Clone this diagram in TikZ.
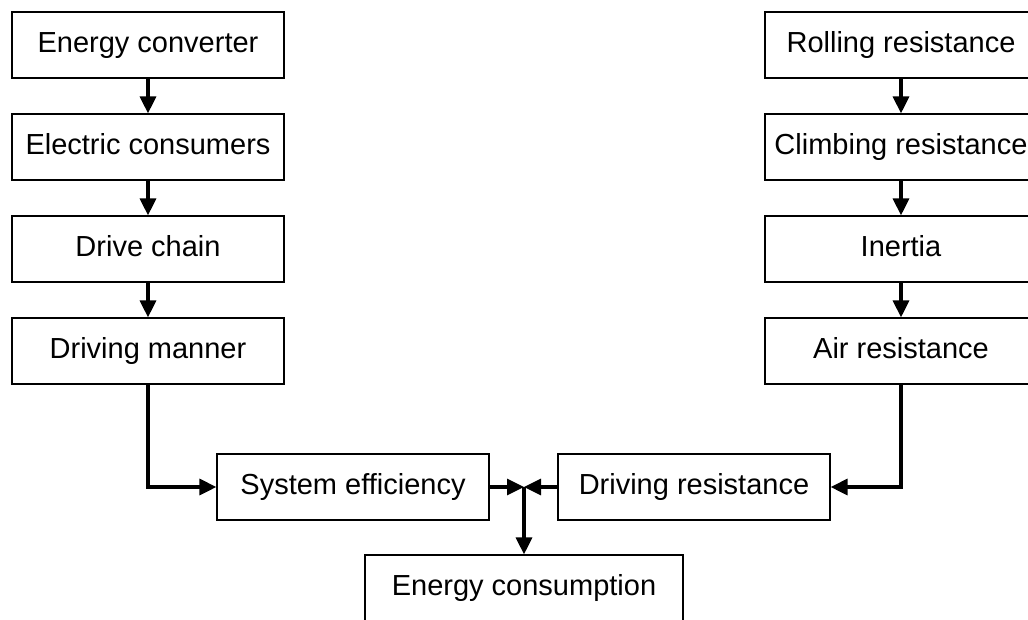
\documentclass[tikz,border=0pt]{standalone}
\usepackage{fontspec}
\setmainfont{Liberation Sans}
\usepackage{tikz}
\usetikzlibrary{positioning}
\usetikzlibrary{arrows.meta}
\tikzset{every picture/.style={x=1pt,y=1pt,font=\fontsize{29}{34}\selectfont},
box/.style={draw,line width=1.2pt,minimum width=272pt,minimum height=66pt,inner sep=0pt,text height=21pt,text depth=6pt},
tri/.style={line width=3.2pt,-{Triangle[length=17pt,width=16pt]}}}

\begin{document}
\begin{tikzpicture}
\useasboundingbox (0,0) rectangle (1028,-619);
\node (l1) at (148,-45) [box] {Energy converter};
\node (l2) [below of=l1, node distance=102pt, box] {Electric consumers};
\node (l3) [below of=l2, node distance=102pt, box] {Drive chain};
\node (l4) [below of=l3, node distance=102pt, box] {Driving manner};
\node (r1) at (901,-45) [box] {Rolling resistance};
\node (r2) [below of=r1, node distance=102pt, box] {Climbing resistance};
\node (r3) [below of=r2, node distance=102pt, box] {Inertia};
\node (r4) [below of=r3, node distance=102pt, box] {Air resistance};
\node (sys) at (353,-487) [box] {System efficiency};
\node (dres) at (694,-487) [box] {Driving resistance};
\node (cons) at (524,-588) [box, minimum width=318pt] {Energy consumption};
\coordinate (j) at (524,-487);
\foreach \c in {l, r} {
\foreach \i/\j in {1/2, 2/3, 3/4} {
\draw[tri] (\c\i) -- (\c\j);
}
}
\draw[tri] (l4) |- (sys);
\draw[tri] (r4) |- (dres);
\draw[tri] (sys) -- (j);
\draw[tri] (dres) -- (j);
\draw[tri] (j) -- (cons);
\end{tikzpicture}
\end{document}
